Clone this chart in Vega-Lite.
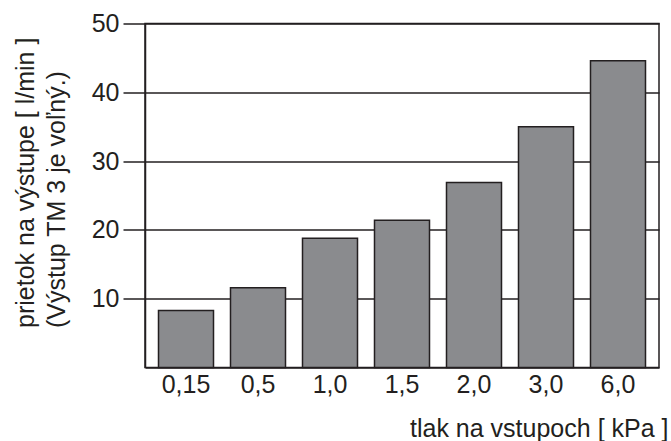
{
  "$schema": "https://vega.github.io/schema/vega-lite/v6.json",
  "width": 514,
  "height": 344,
  "autosize": "none",
  "padding": {"left": 145, "top": 23.5, "right": 12, "bottom": 73.5},
  "background": "white",
  "data": {"values": [
    {"tlak": "0,15", "prietok": 8.3},
    {"tlak": "0,5", "prietok": 11.6},
    {"tlak": "1,0", "prietok": 18.8},
    {"tlak": "1,5", "prietok": 21.4},
    {"tlak": "2,0", "prietok": 26.9},
    {"tlak": "3,0", "prietok": 35.0},
    {"tlak": "6,0", "prietok": 44.6}
  ]},
  "config": {
    "font": "Liberation Sans",
    "view": {"stroke": "#231f20", "strokeWidth": 1.5},
    "axis": {"labelFont": "Liberation Sans", "titleFont": "Liberation Sans", "labelColor": "#231f20", "titleColor": "#231f20", "labelFontSize": 25, "titleFontSize": 25, "titleFontWeight": "normal", "domainColor": "#231f20", "domainWidth": 1.5, "tickColor": "#231f20"}
  },
  "mark": {"type": "bar", "color": "#8a8b8e", "stroke": "#231f20", "strokeWidth": 1.5},
  "encoding": {
    "x": {
      "field": "tlak", "type": "ordinal", "sort": null,
      "scale": {"paddingInner": 0.236, "paddingOuter": 0.1875},
      "axis": {
        "title": "tlak na vstupoch [ kPa ]",
        "labelAngle": 0, "ticks": false, "labelPadding": 5,
        "titleAnchor": null, "titleAlign": "right", "titleX": 523, "titleY": 69, "titleBaseline": "alphabetic"
      }
    },
    "y": {
      "field": "prietok", "type": "quantitative",
      "scale": {"domain": [0, 50], "nice": false},
      "axis": {
        "title": ["prietok na výstupe [ l/min ]", "(Výstup TM 3 je voľný.)"],
        "values": [10, 20, 30, 40, 50],
        "tickSize": 22, "tickWidth": 1.5, "labelPadding": 4,
        "grid": true, "gridColor": "#231f20", "gridWidth": 1.5, "gridOpacity": 1,
        "titleAngle": 270, "titleAlign": "left", "titleAnchor": null, "titleBaseline": "alphabetic",
        "titleX": -112, "titleY": 304, "titleLineHeight": 31
      }
    }
  }
}
